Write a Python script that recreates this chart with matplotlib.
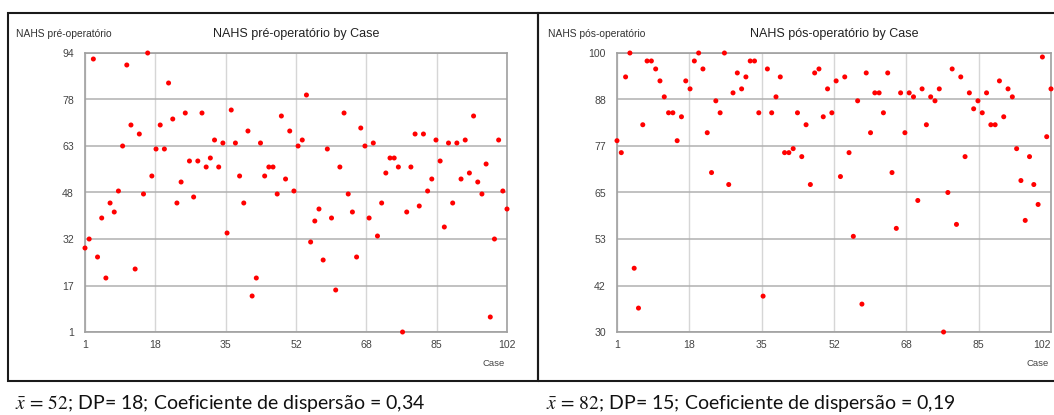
import matplotlib
matplotlib.use('Agg')
import matplotlib.pyplot as plt
import numpy as np
from matplotlib.patches import Rectangle

# ---------------- data ----------------
cases = list(range(1, 103))
nahs_pre = [29, 32, 92, 26, 39, 19, 44, 41, 48, 63,
            90, 70, 22, 67, 47, 94, 53, 62, 70, 62,
            84, 72, 44, 51, 74, 58, 46, 58, 74, 56,
            59, 65, 56, 64, 34, 75, 64, 53, 44, 68,
            13, 19, 64, 53, 56, 56, 47, 73, 52, 68,
            48, 63, 65, 80, 31, 38, 42, 25, 62, 39,
            15, 56, 74, 47, 41, 26, 69, 63, 39, 64,
            33, 44, 54, 59, 59, 56, 1, 41, 56, 67,
            43, 67, 48, 52, 65, 58, 36, 64, 44, 64,
            52, 65, 54, 73, 51, 47, 57, 6, 32, 65,
            48, 42]
nahs_pos = [78, 75, 94, 100, 46, 36, 82, 98, 98, 96,
            93, 89, 85, 85, 78, 84, 93, 91, 98, 100,
            96, 80, 70, 88, 85, 100, 67, 90, 95, 91,
            94, 98, 98, 85, 39, 96, 85, 89, 94, 75,
            75, 76, 85, 74, 82, 67, 95, 96, 84, 91,
            85, 93, 69, 94, 75, 54, 88, 37, 95, 80,
            90, 90, 85, 95, 70, 56, 90, 80, 90, 89,
            63, 91, 82, 89, 88, 91, 30, 65, 96, 57,
            94, 74, 90, 86, 88, 85, 90, 82, 82, 93,
            84, 91, 89, 76, 68, 58, 74, 67, 62, 99,
            79, 91]
x_tick_labels = ['1', '18', '35', '52', '68', '85', '102']
pre_tick_labels = ['1', '17', '32', '48', '63', '78', '94']
pos_tick_labels = ['30', '42', '53', '65', '77', '88', '100']
titles = ['NAHS pré-operatório by Case', 'NAHS pós-operatório by Case']
ylabels = ['NAHS pré-operatório', 'NAHS pós-operatório']
stats = [r'$\bar{x}\,=\,52$; DP= 18; Coeficiente de dispersão = 0,34',
         r'$\bar{x}\,=\,82$; DP= 15; Coeficiente de dispersão = 0,19']

# ---------------- layout ----------------
plt.rcParams['mathtext.fontset'] = 'stix'
W, H = 1054, 415
fig = plt.figure(figsize=(W / 100, H / 100), dpi=100)
fig.patch.set_facecolor('white')


def fx(x):
    return x / W


def fy(y):
    return 1 - y / H


UI = 'Liberation Sans'


def panel(box, values, ylim, ytl, ylabel, title, stat, frame, stat_x,
          last_right=False):
    l, r, t, b = box
    ax = fig.add_axes([fx(l), fy(b), fx(r) - fx(l), fy(t) - fy(b)])
    ax.set_xlim(1, 102)
    ax.set_ylim(*ylim)
    ax.set_xticks(np.linspace(1, 102, 7))
    ax.set_xticklabels(x_tick_labels)
    ax.set_yticks(np.linspace(ylim[0], ylim[1], 7))
    ax.set_yticklabels(ytl)
    ax.tick_params(length=0, labelsize=7.6, labelcolor='#444444', pad=8)
    ax.tick_params(axis='x', pad=6)
    for lab in ax.get_xticklabels() + ax.get_yticklabels():
        lab.set_fontfamily(UI)
    if last_right:
        ax.get_xticklabels()[-1].set_horizontalalignment('right')
    ax.xaxis.grid(True, color='#d6d6d6', lw=1.0)
    ax.yaxis.grid(True, color='#b0b0b0', lw=1.1)
    ax.set_axisbelow(True)
    for s in ax.spines.values():
        s.set_color('#a0a0a0')
        s.set_linewidth(1.2)
    ax.scatter(cases, values, s=13, c='#ff0000', edgecolors='none',
               zorder=3, clip_on=False)
    fig.text(fx((l + r) / 2), fy(34), title, ha='center', va='center',
             fontsize=9, family=UI, color='#222222')
    fig.text(fx(l - 69), fy(34), ylabel, ha='left', va='center',
             fontsize=7.4, family=UI, color='#333333')
    fig.text(fx(r - 2), fy(363), 'Case', ha='right', va='center',
             fontsize=6.8, family=UI, color='#444444')
    fig.add_artist(Rectangle((fx(frame[0]), fy(frame[3])),
                             fx(frame[1]) - fx(frame[0]),
                             fy(frame[2]) - fy(frame[3]),
                             transform=fig.transFigure, fill=False,
                             edgecolor='#1a1a1a', lw=1.5))
    fig.text(fx(stat_x), fy(403), stat, ha='left', va='center',
             fontsize=14, family='Lato', color='#111111')
    return ax


panel((85, 507, 53, 332), nahs_pre, (1, 94), pre_tick_labels,
      ylabels[0], titles[0], stats[0], (8, 538, 13, 381), 15)
panel((617, 1051, 53, 332), nahs_pos, (30, 100), pos_tick_labels,
      ylabels[1], titles[1], stats[1], (538, 1070, 13, 381), 546,
      last_right=True)

fig.savefig('out.png', dpi=100, facecolor='white')
